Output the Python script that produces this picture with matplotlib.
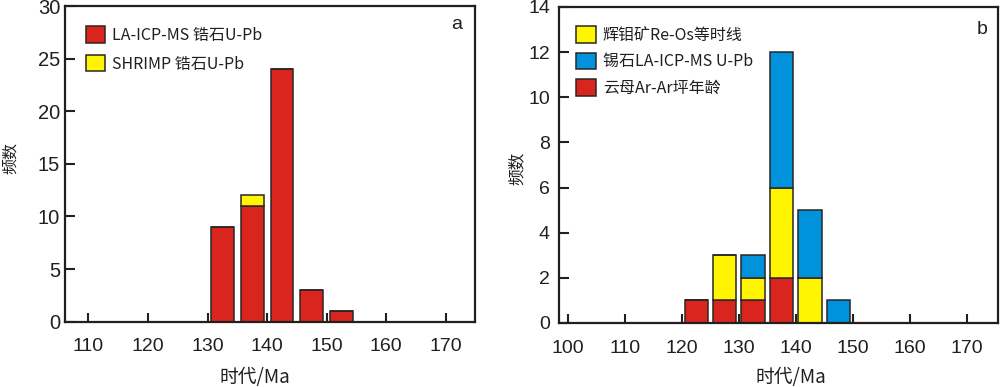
import matplotlib
matplotlib.use('Agg')
import matplotlib.pyplot as plt
from matplotlib.patches import Patch

# ---------------- data ----------------
# panel a: zircon U-Pb ages (bin centres, Ma)
bins_a = [132.5, 137.5, 142.5, 147.5, 152.5]
la_icp_ms_a = [9, 11, 24, 3, 1]
shrimp_a = [0, 1, 0, 0, 0]
xticks_a = [110, 120, 130, 140, 150, 160, 170]
yticks_a = [0, 5, 10, 15, 20, 25, 30]

# panel b: molybdenite Re-Os, cassiterite U-Pb, mica Ar-Ar
bins_b = [122.5, 127.5, 132.5, 137.5, 142.5, 147.5]
mica_ar_b = [1, 1, 1, 2, 0, 0]
moly_reos_b = [0, 2, 1, 4, 2, 0]
cass_upb_b = [0, 0, 1, 6, 3, 1]
xticks_b = [100, 110, 120, 130, 140, 150, 160, 170]
yticks_b = [0, 2, 4, 6, 8, 10, 12, 14]

RED = '#DA251E'
YEL = '#FFF500'
BLU = '#0092DA'
EDGE = '#2A2626'
AXC = '#231F20'

CJK = ['Noto Sans CJK SC', 'DejaVu Sans']
NUM = ['Liberation Sans', 'DejaVu Sans']

fig = plt.figure(figsize=(10, 3.87), dpi=100)
ax1 = fig.add_axes([0.065, 0.1687, 0.41, 0.8157])
ax2 = fig.add_axes([0.559, 0.1654, 0.439, 0.8166])


def style(ax, xlim, ylim, xt, yt, ysize):
    ax.set_xlim(*xlim)
    ax.set_ylim(*ylim)
    ax.set_xticks(xt)
    ax.set_yticks(yt)
    for s in ax.spines.values():
        s.set_linewidth(1.6)
        s.set_color(AXC)
    ax.tick_params(axis='x', direction='in', length=6.5, width=1.5,
                   color=AXC, pad=12, labelsize=14)
    ax.tick_params(axis='y', direction='in', length=7, width=1.5,
                   color=AXC, labelsize=ysize)
    for lab in ax.get_xticklabels() + ax.get_yticklabels():
        lab.set_family(NUM)
        lab.set_color('#231F20')


# ---------- panel a ----------
wa = 3.8
ax1.bar(bins_a, la_icp_ms_a, width=wa, color=RED, edgecolor=EDGE,
        linewidth=1.1, label='LA-ICP-MS 锆石U-Pb', zorder=2)
ax1.bar(bins_a, shrimp_a, width=wa, bottom=la_icp_ms_a, color=YEL,
        edgecolor=EDGE, linewidth=1.1, label='SHRIMP 锆石U-Pb', zorder=2)
style(ax1, (106.08, 174.9), (0, 30), xticks_a, yticks_a, 14.5)
ax1.tick_params(axis='y', pad=3.5)
ax1.set_xlabel('时代/Ma', family=CJK, fontsize=13.5, color='#231F20')
ax1.xaxis.set_label_coords(0.463, -0.178)
ax1.xaxis.label.set_va('center')
ax1.set_ylabel('频数', family=CJK, fontsize=11.5, color='#231F20')
ax1.yaxis.set_label_coords(-0.132, 0.519)
ax1.yaxis.label.set_va('center')
ax1.text(0.956, 0.943, 'a', transform=ax1.transAxes, ha='center',
         va='center', fontsize=14, family=NUM, color='#231F20')
h1 = [Patch(facecolor=RED, edgecolor=EDGE, linewidth=1.1),
      Patch(facecolor=YEL, edgecolor=EDGE, linewidth=1.1)]
ax1.legend(h1, ['LA-ICP-MS 锆石U-Pb', 'SHRIMP 锆石U-Pb'],
           loc='upper left', bbox_to_anchor=(0.0512, 0.936), frameon=False,
           borderpad=0, borderaxespad=0, handlelength=1.2, handleheight=1.2,
           handletextpad=0.45, labelspacing=0.7,
           prop={'family': CJK, 'size': 11.5}, labelcolor='#231F20')

# ---------- panel b ----------
wb = 4.1
bottom_y = mica_ar_b
bottom_c = [a + b for a, b in zip(mica_ar_b, moly_reos_b)]
ax2.bar(bins_b, mica_ar_b, width=wb, color=RED, edgecolor=EDGE,
        linewidth=1.1, zorder=2)
ax2.bar(bins_b, moly_reos_b, width=wb, bottom=bottom_y, color=YEL,
        edgecolor=EDGE, linewidth=1.1, zorder=2)
ax2.bar(bins_b, cass_upb_b, width=wb, bottom=bottom_c, color=BLU,
        edgecolor=EDGE, linewidth=1.1, zorder=2)
style(ax2, (98.4, 175.5), (0, 14), xticks_b, yticks_b, 14)
ax2.tick_params(axis='y', pad=6.5)
ax2.set_xlabel('时代/Ma', family=CJK, fontsize=13.5, color='#231F20')
ax2.xaxis.set_label_coords(0.528, -0.174)
ax2.xaxis.label.set_va('center')
ax2.set_ylabel('频数', family=CJK, fontsize=12, color='#231F20')
ax2.yaxis.set_label_coords(-0.0957, 0.49)
ax2.yaxis.label.set_va('center')
ax2.text(0.963, 0.930, 'b', transform=ax2.transAxes, ha='center',
         va='center', fontsize=14, family=NUM, color='#231F20')
h2 = [Patch(facecolor=YEL, edgecolor=EDGE, linewidth=1.1),
      Patch(facecolor=BLU, edgecolor=EDGE, linewidth=1.1),
      Patch(facecolor=RED, edgecolor=EDGE, linewidth=1.1)]
ax2.legend(h2, ['辉钼矿Re-Os等时线', '锡石LA-ICP-MS U-Pb', '云母Ar-Ar坪年龄'],
           loc='upper left', bbox_to_anchor=(0.038, 0.94), frameon=False,
           borderpad=0, borderaxespad=0, handlelength=1.25, handleheight=1.25,
           handletextpad=0.45, labelspacing=0.55,
           prop={'family': CJK, 'size': 11.5}, labelcolor='#231F20')

fig.savefig('out.png', dpi=100)
